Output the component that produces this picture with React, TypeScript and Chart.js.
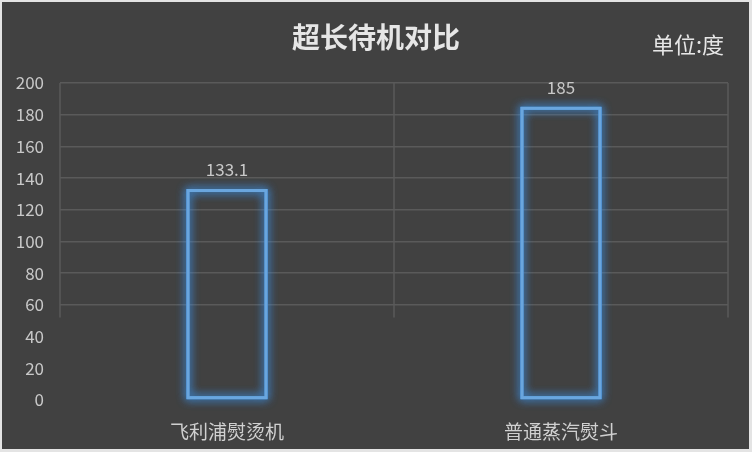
import React, { useEffect, useRef } from 'react';
import { Chart, registerables, Plugin } from 'chart.js';

Chart.register(...registerables);

const categories = ['飞利浦熨烫机', '普通蒸汽熨斗'];
const standbyValues = [133.1, 185];
const valueLabels = ['133.1', '185'];
const chartTitle = '超长待机对比';
const unitLabel = '单位:度';

const FONT = '"Microsoft YaHei", "Noto Sans CJK SC", "Noto Sans", sans-serif';

// background, outer frame and vertical category separators
const backdropPlugin: Plugin<'bar'> = {
  id: 'backdrop',
  beforeDraw(chart) {
    const { ctx, width, height, chartArea } = chart;
    ctx.save();
    ctx.fillStyle = '#e4e4e4';
    ctx.fillRect(0, 0, width, height);
    ctx.fillStyle = '#414141';
    ctx.fillRect(2, 2, width - 5, height - 5);
    const y = chart.scales.y;
    const bottom = y.getPixelForValue(52);
    const n = categories.length;
    ctx.strokeStyle = '#5a5a5a';
    ctx.lineWidth = 1.5;
    for (let i = 0; i <= n; i++) {
      const x = chartArea.left + (i * (chartArea.right - chartArea.left)) / n;
      ctx.beginPath();
      ctx.moveTo(x, chartArea.top);
      ctx.lineTo(x, bottom);
      ctx.stroke();
    }
    ctx.restore();
  },
};

// soft blue halo around each bar outline (the bar element clips its own shadow)
const glowPlugin: Plugin<'bar'> = {
  id: 'glow',
  beforeDatasetDraw(chart) {
    const { ctx } = chart;
    const meta = chart.getDatasetMeta(0);
    ctx.save();
    ctx.shadowColor = 'rgba(60, 150, 240, 1)';
    ctx.shadowBlur = 10;
    ctx.strokeStyle = 'rgba(80, 150, 220, 0.9)';
    ctx.lineWidth = 3;
    meta.data.forEach((bar) => {
      const p = bar.getProps(['x', 'y', 'base', 'width'], true) as {
        x: number; y: number; base: number; width: number;
      };
      ctx.strokeRect(p.x - p.width / 2 + 1.5, p.y + 1.5, p.width - 3, p.base - p.y - 3);
      ctx.strokeRect(p.x - p.width / 2 + 1.5, p.y + 1.5, p.width - 3, p.base - p.y - 3);
    });
    ctx.restore();
  },
};

const textPlugin: Plugin<'bar'> = {
  id: 'texts',
  afterDraw(chart) {
    const { ctx } = chart;
    ctx.save();
    ctx.fillStyle = '#e6e6e6';
    ctx.textAlign = 'center';
    ctx.textBaseline = 'middle';
    ctx.font = `bold 28px ${FONT}`;
    ctx.fillText(chartTitle, 376, 37);
    ctx.textAlign = 'right';
    ctx.font = `22px ${FONT}`;
    ctx.fillText(unitLabel, 724, 45);

    const meta = chart.getDatasetMeta(0);
    ctx.textAlign = 'center';
    ctx.font = `17px ${FONT}`;
    ctx.fillStyle = '#c8c8c8';
    meta.data.forEach((bar, i) => {
      const p = bar.getProps(['x', 'y'], true) as { x: number; y: number };
      ctx.fillText(valueLabels[i], p.x, p.y - 19);
    });
    ctx.restore();
  },
};

const App: React.FC = () => {
  const canvasRef = useRef<HTMLCanvasElement | null>(null);

  useEffect(() => {
    document.body.style.margin = '0';
    let chart: Chart<'bar'> | null = null;
    if (canvasRef.current) {
      chart = new Chart(canvasRef.current, {
        type: 'bar',
        data: {
          labels: categories,
          datasets: [
            {
              data: standbyValues,
              backgroundColor: 'rgba(0,0,0,0)',
              borderColor: '#6aa6de',
              borderWidth: 3,
              borderSkipped: false,
              barPercentage: 0.243,
              categoryPercentage: 1,
            },
          ],
        },
        options: {
          animation: false,
          responsive: false,
          devicePixelRatio: 1,
          layout: { padding: { top: 83, right: 24, left: 0, bottom: 0 } },
          plugins: {
            legend: { display: false },
            tooltip: { enabled: false },
            title: { display: false },
          },
          scales: {
            x: {
              grid: { display: false },
              border: { display: false },
              ticks: {
                color: '#d0d0d0',
                font: { family: FONT, size: 19 },
                padding: 12,
              },
              afterFit(scale) {
                scale.height = 52;
              },
            },
            y: {
              min: 0,
              max: 200,
              ticks: {
                stepSize: 20,
                color: '#c8c8c8',
                font: { family: FONT, size: 17 },
                padding: 16,
              },
              grid: {
                drawTicks: false,
                lineWidth: 1.5,
                color: (c) => ((c.tick?.value ?? 0) < 60 ? 'rgba(0,0,0,0)' : '#5a5a5a'),
              },
              border: { display: false },
              afterFit(scale) {
                scale.width = 60;
              },
            },
          },
        },
        plugins: [backdropPlugin, glowPlugin, textPlugin],
      });
    }
    return () => {
      chart?.destroy();
    };
  }, []);

  return (
    <div style={{ width: 752, height: 452 }}>
      <canvas ref={canvasRef} width={752} height={452} />
    </div>
  );
};

export default App;
